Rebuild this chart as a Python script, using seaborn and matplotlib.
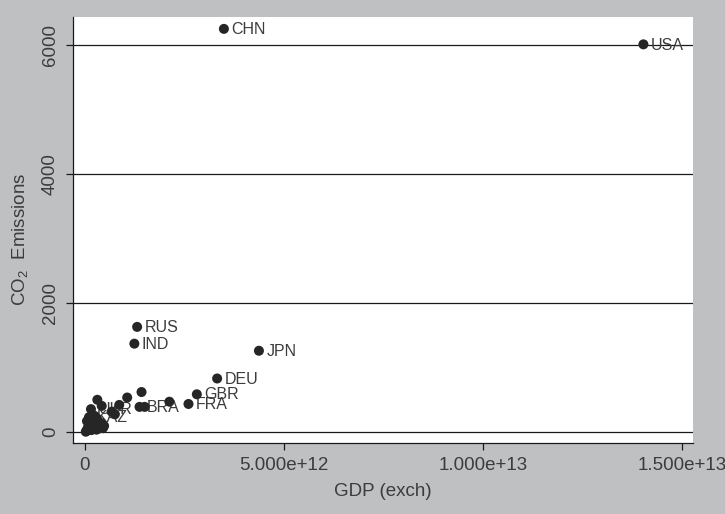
import pandas as pd
import seaborn as sns
import matplotlib.pyplot as plt
from matplotlib.ticker import FuncFormatter

# =====================================================
# Data
# =====================================================

countries = [
    "CHN", "USA", "RUS", "IND", "JPN", "DEU", "GBR", "FRA", "ITA", "CAN",
    "KOR", "BRA", "ESP", "MEX", "TUR", "IRN", "SAU", "UKR", "POL", "KAZ",
    "AUS", "IDN", "ZAF", "TWN", "THA", "EGY", "ARG", "MYS", "VEN", "NLD",
    "PAK", "UZB", "CZE", "ROU", "BEL", "DZA", "VNM", "PHL", "IRQ", "KWT",
    "CHL", "GRC", "AUT", "NOR",
]
gdp = [
    3.49e12, 14.03e12, 1.31e12, 1.24e12, 4.37e12, 3.32e12, 2.81e12, 2.60e12, 2.12e12, 1.42e12,
    1.06e12, 1.37e12, 1.50e12, 0.86e12, 0.75e12, 0.31e12, 0.42e12, 0.15e12, 0.67e12, 0.10e12,
    0.24e12, 0.30e12, 0.44e12, 0.48e12, 0.40e12, 0.33e12, 0.36e12, 0.28e12, 0.22e12, 0.20e12,
    0.18e12, 0.16e12, 0.14e12, 0.12e12, 0.10e12, 0.08e12, 0.06e12, 0.05e12, 0.04e12, 0.02e12,
    0.25e12, 0.30e12, 0.40e12, 0.45e12,
]
co2 = [
    6250, 6010, 1630, 1370, 1260, 830, 585, 435, 470, 620,
    535, 390, 390, 420, 275, 500, 405, 355, 315, 230,
    250, 210, 100, 95, 140, 60, 70, 40, 175, 130,
    95, 30, 60, 150, 110, 80, 45, 170, 20, 5,
    60, 40, 110, 60,
]
shown = [
    "CHN", "USA", "RUS", "IND", "JPN", "DEU", "GBR", "FRA", "", "",
    "", "BRA", "", "", "", "", "", "UKR", "", "KAZ",
    "", "", "", "", "", "", "", "", "", "",
    "", "", "", "", "", "", "", "", "", "",
    "", "", "", "",
]

df = pd.DataFrame({"country": countries, "gdp": gdp, "co2": co2, "label": shown})

# =====================================================
# Style
# =====================================================

BG = "#bfc0c2"
TXT = "#3c3c3c"
FONT = ["Liberation Sans Narrow", "Liberation Sans", "DejaVu Sans"]

sns.set_style("white")
plt.rcParams["font.family"] = FONT
plt.rcParams["mathtext.fontset"] = "custom"
plt.rcParams["mathtext.rm"] = "Liberation Sans"

fig = plt.figure(figsize=(7.25, 5.14), dpi=100, facecolor=BG)
ax = fig.add_axes([73 / 725, 71 / 514, 620 / 725, 426 / 514])
ax.set_facecolor("white")

# gridlines behind everything
for yv in [0, 2000, 4000, 6000]:
    ax.axhline(yv, color="#1a1a1a", lw=0.9, zorder=1)

# marker labels first so later markers cover them
for _, r in df.iterrows():
    if r["label"]:
        ax.annotate(
            r["label"], (r["gdp"], r["co2"]),
            xytext=(5.5, -0.5), textcoords="offset points",
            ha="left", va="center", fontsize=11.5, color=TXT, zorder=2
        )

sns.scatterplot(
    data=df, x="gdp", y="co2", ax=ax,
    s=52, color="#262626", edgecolor="none", zorder=3, legend=False
)

ax.set_xlim(-0.3015e12, 15.276e12)
ax.set_ylim(-170, 6434)

ax.set_xticks([0, 5e12, 1e13, 1.5e13])
ax.xaxis.set_major_formatter(FuncFormatter(lambda v, _: "0" if v == 0 else f"{v:.3e}"))
ax.set_yticks([0, 2000, 4000, 6000])

ax.tick_params(axis="both", direction="out", length=5, width=0.9,
               color="#1a1a1a", labelsize=13.5, labelcolor=TXT, pad=5)
ax.tick_params(axis="x", bottom=True)
ax.tick_params(axis="y", left=True)
for lab in ax.get_yticklabels():
    lab.set_rotation(90)
    lab.set_va("center")

for side in ["top", "right"]:
    ax.spines[side].set_visible(False)
for side in ["left", "bottom"]:
    ax.spines[side].set_color("#1a1a1a")
    ax.spines[side].set_linewidth(0.9)

ax.set_xlabel("GDP (exch)", fontsize=13.5, color=TXT)
ax.xaxis.set_label_coords(0.5, -0.094)
ax.set_ylabel("CO$_\\mathrm{2}$  Emissions", fontsize=13.5, color=TXT)
ax.yaxis.set_label_coords(-0.068, 0.479)

plt.savefig("out.png", dpi=100, facecolor=BG)
plt.close()
